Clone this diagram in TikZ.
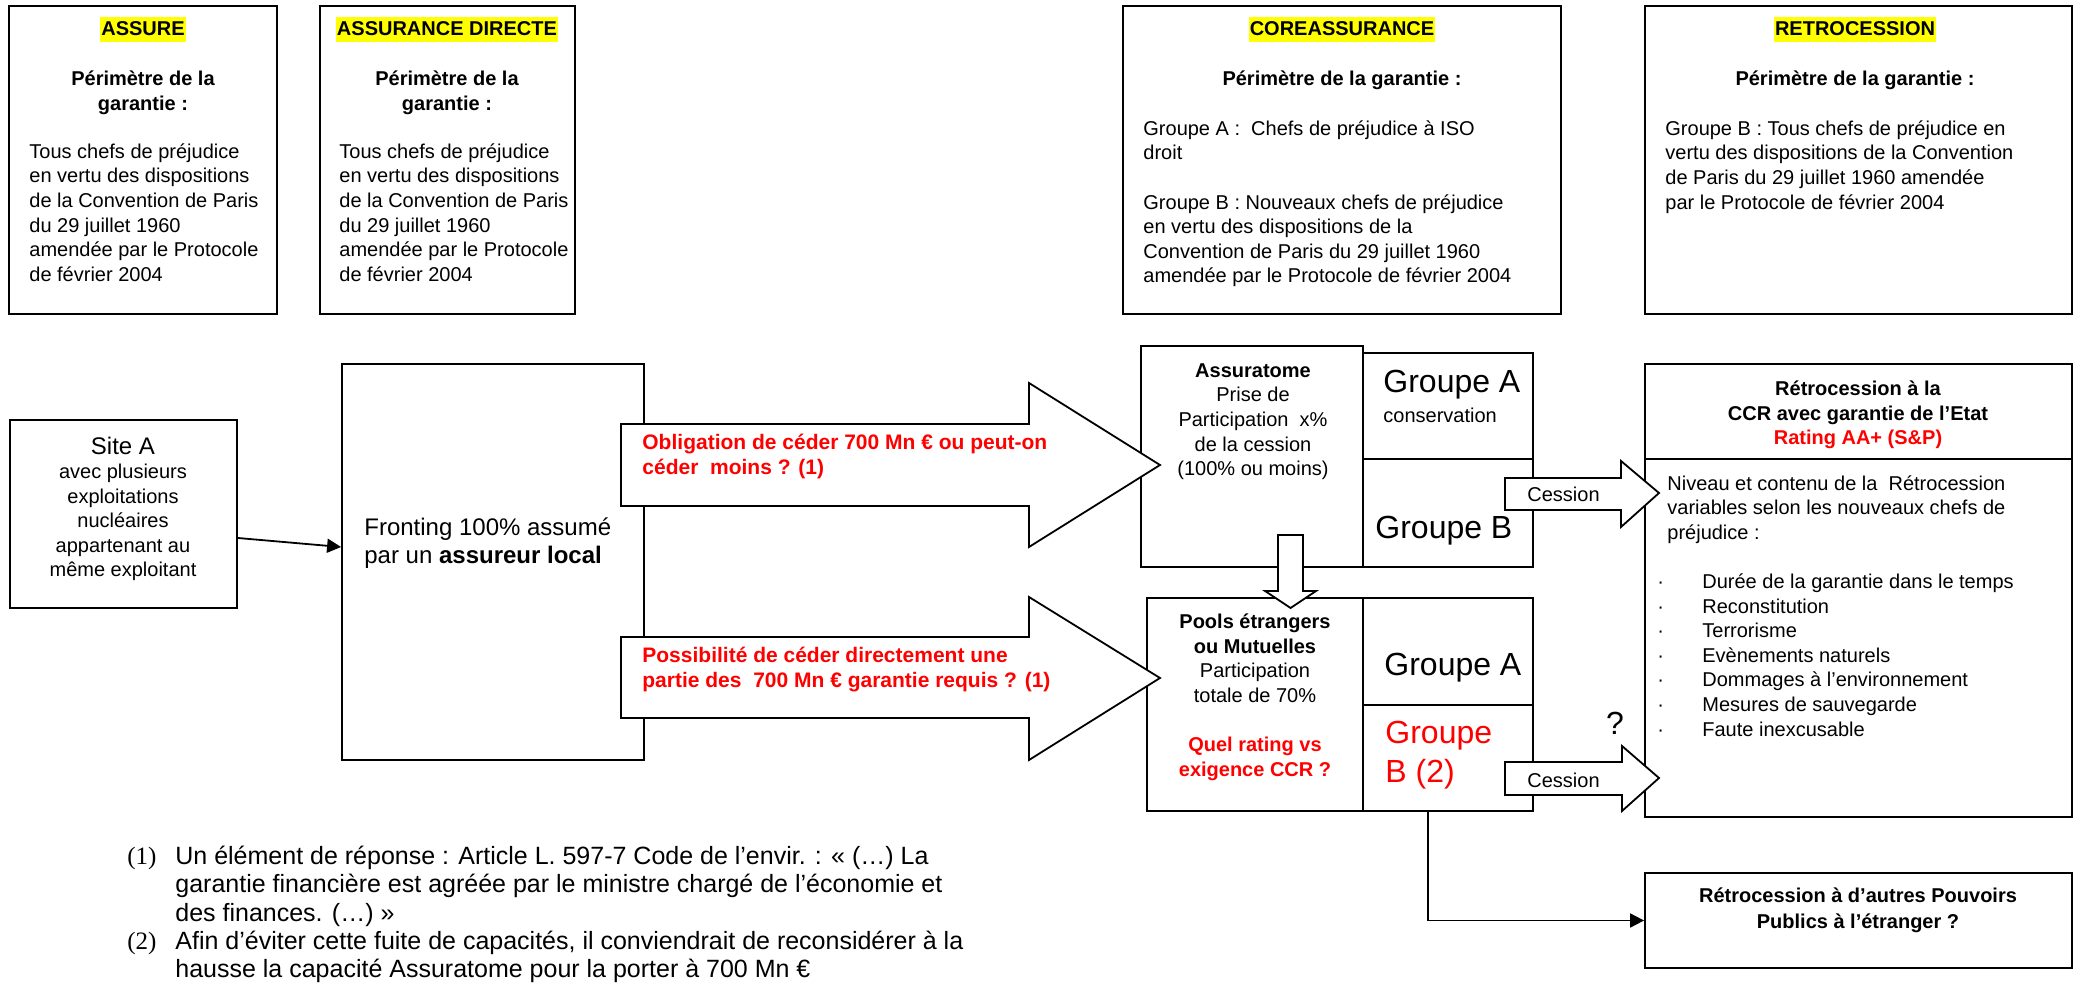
\documentclass[tikz,border=0pt]{standalone}
\usepackage{fontspec}
\setmainfont{Liberation Sans}
\newfontfamily\serifnum{Liberation Serif}
\usetikzlibrary{fit,arrows.meta}
\definecolor{hlyellow}{RGB}{255,255,0}
\definecolor{txtred}{RGB}{255,0,0}
\newcommand\fstrut{\rule{0pt}{12pt}}
\newcommand\bul{\makebox[22.5pt][l]{·}}
\begin{document}
\begin{tikzpicture}[x=0.5pt,y=-0.5pt,
  box/.style={draw=black,line width=0.9pt,fill=white,inner sep=0pt},
  blockarrow/.style={draw=black,line width=0.9pt,fill=white,line join=miter},
  conn/.style={draw=black,line width=0.9pt,-{Triangle[length=7pt,width=7pt]}},
  tt/.style={inner sep=0pt,font=\fontsize{10pt}{12.3pt}\selectfont},
  ttl/.style={tt,anchor=north west,align=left},
  ttc/.style={tt,anchor=north,align=center},
  bf/.style={font=\fontsize{10pt}{12.4pt}\selectfont\bfseries},
  hdr/.style={inner xsep=0.5pt,inner ysep=0pt,fill=hlyellow,anchor=base,text height=9.5pt,text depth=3pt,font=\fontsize{10pt}{12.3pt}\selectfont\bfseries},
  big/.style={inner sep=0pt,anchor=north west,align=left,font=\fontsize{16pt}{19.5pt}\selectfont},
  arrtxt/.style={text=txtred,font=\fontsize{10.5pt}{12.75pt}\selectfont\bfseries},
  fn/.style={inner sep=0pt,anchor=north west,align=left,font=\fontsize{12.5pt}{14.15pt}\selectfont},
  fnnum/.style={inner sep=0pt,anchor=base west,font=\serifnum\fontsize{12.5pt}{14pt}\selectfont}
]
\fill[white] (0,0) rectangle (2078,989);
\useasboundingbox (0,0) rectangle (2078,989);

% ---------- top boxes ----------
\node[box,fit={(9,6)(277,314)}] (assure) {};
\node[box,fit={(320,6)(575,314)}] (direct) {};
\node[box,fit={(1123,6)(1561,314)}] (coass) {};
\node[box,fit={(1645,6)(2072,314)}] (retro) {};

% ---------- second row boxes ----------
\node[box,fit={(10,420)(237,608)}] (site) {};
\node[box,fit={(342,364)(644,760)}] (front) {};
\node[box,fit={(1141,346)(1363,567)}] (assur) {};
\node[box,fit={(1363,353)(1533,459)}] (ga1) {};
\node[box,fit={(1363,459)(1533,567)}] (gb1) {};
\node[box,fit={(1147,598)(1363,811)}] (pools) {};
\node[box,fit={(1363,598)(1533,705)}] (ga2) {};
\node[box,fit={(1363,705)(1533,811)}] (gb2) {};
\node[box,fit={(1645,364)(2072,459)}] (ccrH) {};
\node[box,fit={(1645,459)(2072,817)}] (ccrB) {};
\node[box,fit={(1645,873)(2072,968)}] (autres) {};

% ---------- block arrows ----------
\draw[blockarrow] (621,424) -- (1029,424) -- (1029,383) -- (1160,465) -- (1029,547) -- (1029,506) -- (621,506) -- cycle;
\draw[blockarrow] (621,637) -- (1029,637) -- (1029,597) -- (1160,678) -- (1029,760) -- (1029,718) -- (621,718) -- cycle;
\draw[blockarrow] (1278,535) -- (1303,535) -- (1303,591) -- (1316,591) -- (1290.5,608) -- (1265,591) -- (1278,591) -- cycle;
\draw[blockarrow] (1505,478) -- (1621,478) -- (1621,461) -- (1659,493) -- (1621,527) -- (1621,510) -- (1505,510) -- cycle;
\draw[blockarrow] (1505,762) -- (1622,762) -- (1622,746) -- (1659,778) -- (1622,811) -- (1622,795) -- (1505,795) -- cycle;

% ---------- connectors ----------
\draw[conn] ([yshift=-12pt]site.east) -- ([yshift=7.5pt]front.west);
\draw[conn] ([xshift=-10pt]gb2.south) |- (autres.west);

% ---------- texts: top boxes ----------
\node[hdr] (assureH) at (143,36) {ASSURE};
\node[hdr] (directH) at (447,36) {ASSURANCE DIRECTE};
\node[hdr] (coassH) at (1342,36) {COREASSURANCE};
\node[hdr] (retroH) at (1855,36) {RETROCESSION};

\node[ttc,bf] (assureP) at (143,61) {\fstrut Périmètre de la\\garantie :};
\node[ttc,bf] (directP) at (447,61) {\fstrut Périmètre de la\\garantie :};
\node[ttc,bf] (coassP) at (1342,61) {\fstrut Périmètre de la garantie :};
\node[ttc,bf] (retroP) at (1855,61) {\fstrut Périmètre de la garantie :};

\node[ttl] (assureT) at (29,134) {\fstrut Tous chefs de préjudice\\en vertu des dispositions\\de la Convention de Paris\\du 29 juillet 1960\\amendée par le Protocole\\de février 2004};
\node[ttl] (directT) at (339,134) {\fstrut Tous chefs de préjudice\\en vertu des dispositions\\de la Convention de Paris\\du 29 juillet 1960\\amendée par le Protocole\\de février 2004};
\node[ttl] (coassT) at (1143,111) {\fstrut Groupe A :~~Chefs de préjudice à ISO\\droit\\[12.3pt]Groupe B : Nouveaux chefs de préjudice\\en vertu des dispositions de la\\Convention de Paris du 29 juillet 1960\\amendée par le Protocole de février 2004};
\node[ttl] (retroT) at (1665,111) {\fstrut Groupe B : Tous chefs de préjudice en\\vertu des dispositions de la Convention\\de Paris du 29 juillet 1960 amendée\\par le Protocole de février 2004};

% ---------- texts: second row ----------
\node[tt,anchor=north,font=\fontsize{12pt}{14pt}\selectfont] (siteT) at (123,430) {\fstrut Site A};
\node[ttc] (siteD) at (123,454) {\fstrut avec plusieurs\\exploitations\\nucléaires\\appartenant au\\même exploitant};

\node[ttl,font=\fontsize{12pt}{14pt}\selectfont] (frontT) at (364,511) {\fstrut Fronting 100\% assumé\\par un \textbf{assureur local}};

\node[ttl,arrtxt] (a1T) at (642,425) {\fstrut Obligation de céder 700 Mn € ou peut-on\\céder~~moins ? (1)};
\node[ttl,arrtxt] (a2T) at (642,638) {\fstrut Possibilité de céder directement une\\partie des~~700 Mn € garantie requis ? (1)};

\node[ttc] (assurT) at (1253,353) {\fstrut\textbf{Assuratome}\\Prise de\\Participation~~x\%\\de la cession\\(100\% ou moins)};
\node[big] (ga1T) at (1383,368) {\fstrut Groupe A};
\node[tt,anchor=north west] (ga1S) at (1383,398) {\fstrut conservation};
\node[big] (gb1T) at (1375,514) {\fstrut Groupe B};

\node[ttc] (poolsT) at (1255,604) {\fstrut\textbf{Pools étrangers}\\\textbf{ou Mutuelles}\\Participation\\totale de 70\%\\[12.3pt]\textcolor{txtred}{\textbf{Quel rating vs}}\\\textcolor{txtred}{\textbf{exigence CCR ?}}};
\node[big] (ga2T) at (1384,651) {\fstrut Groupe A};
\node[big,text=txtred] (gb2T) at (1385,719) {\fstrut Groupe\\B (2)};

\node[tt,anchor=base west] (ces1) at (1527,502) {Cession};
\node[tt,anchor=base west] (ces2) at (1527,787) {Cession};
\node[inner sep=0pt,anchor=base,font=\fontsize{16pt}{19pt}\selectfont] (qmark) at (1615,734) {?};

\node[ttc,bf] (ccrT) at (1858,371) {\fstrut Rétrocession à la\\CCR avec garantie de l’Etat\\\textcolor{txtred}{Rating AA+ (S\&P)}};
\node[ttl] (ccrN) at (1667,466) {\fstrut Niveau et contenu de la~~Rétrocession\\variables selon les nouveaux chefs de\\préjudice :};
\node[ttl] (ccrL) at (1657,564) {\fstrut\bul Durée de la garantie dans le temps\\\bul Reconstitution\\\bul Terrorisme\\\bul Evènements naturels\\\bul Dommages à l’environnement\\\bul Mesures de sauvegarde\\\bul Faute inexcusable};

\node[ttc,font=\fontsize{10pt}{13pt}\selectfont\bfseries] (autresT) at (1858,878) {\fstrut Rétrocession à d’autres Pouvoirs\\Publics à l’étranger ?};

% ---------- footnotes ----------
\node[fnnum] (fn1n) at (127,864) {(1)};
\node[fn] (fn1) at (175,840) {\fstrut Un élément de réponse : Article L. 597-7 Code de l’envir. : « (…) La\\garantie financière est agréée par le ministre chargé de l’économie et\\des finances. (…) »};
\node[fnnum] (fn2n) at (127,949) {(2)};
\node[fn] (fn2) at (175,925) {\fstrut Afin d’éviter cette fuite de capacités, il conviendrait de reconsidérer à la\\hausse la capacité Assuratome pour la porter à 700 Mn €};
\end{tikzpicture}
\end{document}
